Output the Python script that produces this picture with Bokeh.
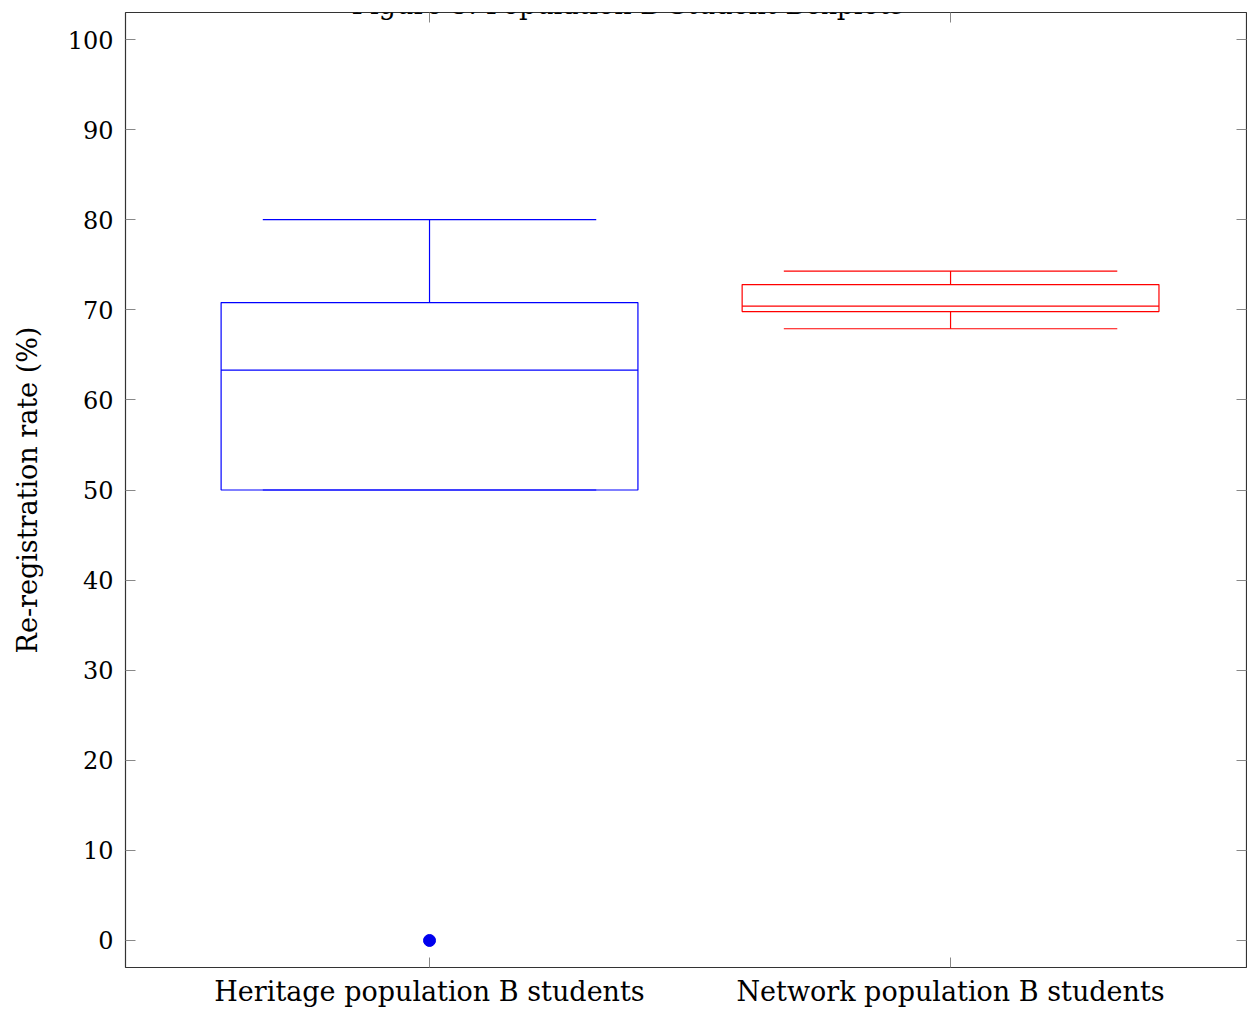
from bokeh.plotting import figure
from bokeh.models import LinearAxis, FixedTicker, Range1d, Label, ColumnDataSource
from bokeh.embed import file_html
from bokeh.resources import INLINE

# ---- data ----
categories = ["Heritage population B students", "Network population B students"]
lower_whisker = [50.0, 67.9]
lower_quartile = [50.0, 69.8]
median = [63.3, 70.4]
upper_quartile = [70.8, 72.8]
upper_whisker = [80.0, 74.3]
colors = ["#0000ff", "#ff0000"]
outlier_group = [1]
outlier_value = [0.0]
y_ticks = [0, 10, 20, 30, 40, 50, 60, 70, 80, 90, 100]
title_text = "Figure 5: Population B Student Boxplots"
y_label = "Re-registration rate (%)"

FONT = "DejaVu Serif"
FS_NUM = "24px"
FS_TXT = "27px"

positions = [i + 1 for i in range(len(categories))]
box_half = 0.4
cap_half = 0.32

src = ColumnDataSource(dict(
    x=positions,
    left=[x - box_half for x in positions],
    right=[x + box_half for x in positions],
    cap_l=[x - cap_half for x in positions],
    cap_r=[x + cap_half for x in positions],
    lw=lower_whisker, q1=lower_quartile, med=median, q3=upper_quartile, uw=upper_whisker,
    color=colors,
))

p = figure(width=1247, height=1009, x_range=Range1d(0.4165, 2.568), y_range=Range1d(-3, 103),
           output_backend="svg", toolbar_location=None,
           min_border_left=125, min_border_top=12, min_border_right=1, min_border_bottom=41)
p.xgrid.visible = False
p.ygrid.visible = False
p.outline_line_color = "#333333"
p.outline_line_width = 1.2
p.background_fill_color = "white"
p.border_fill_color = "white"

lw_ = 1.2
# boxes
p.quad(left="left", right="right", bottom="q1", top="q3", source=src,
       fill_color=None, line_color="color", line_width=lw_)
# whiskers
p.segment(x0="x", x1="x", y0="q3", y1="uw", source=src, line_color="color", line_width=lw_)
p.segment(x0="x", x1="x", y0="q1", y1="lw", source=src, line_color="color", line_width=lw_)
p.segment(x0="cap_l", x1="cap_r", y0="uw", y1="uw", source=src, line_color="color", line_width=lw_)
p.segment(x0="cap_l", x1="cap_r", y0="lw", y1="lw", source=src, line_color="color", line_width=lw_)
# medians
for i in range(len(positions)):
    p.line(x=[src.data["left"][i], src.data["right"][i]], y=[median[i], median[i]],
           line_color=colors[i], line_width=lw_)
# outliers
p.scatter(x=outlier_group, y=outlier_value, size=12, color="#0000ee", marker="circle")

tick_color = "#888888"

def style_axis(ax, fs):
    ax.axis_line_color = None
    ax.major_tick_in = 10
    ax.major_tick_out = 0
    ax.major_tick_line_color = tick_color
    ax.minor_tick_line_color = None
    ax.major_label_text_font = FONT
    ax.major_label_text_font_size = fs
    ax.major_label_text_color = "black"

xax = p.xaxis[0]
xax.ticker = FixedTicker(ticks=positions)
xax.major_label_overrides = {pos: cat for pos, cat in zip(positions, categories)}
style_axis(xax, FS_TXT)
xax.major_label_standoff = 8

yax = p.yaxis[0]
yax.ticker = FixedTicker(ticks=y_ticks)
style_axis(yax, FS_NUM)
yax.major_label_standoff = 12
yax.axis_label = y_label
yax.axis_label_text_font = FONT
yax.axis_label_text_font_size = FS_TXT
yax.axis_label_text_font_style = "normal"
yax.axis_label_text_color = "black"
yax.axis_label_standoff = 22

rax = LinearAxis(ticker=FixedTicker(ticks=y_ticks))
style_axis(rax, FS_NUM)
rax.major_label_overrides = {t: "" for t in y_ticks}
rax.major_label_standoff = 0
p.add_layout(rax, "right")

tax = LinearAxis(ticker=FixedTicker(ticks=positions))
style_axis(tax, FS_NUM)
tax.major_label_overrides = {t: "" for t in positions}
tax.major_label_standoff = 0
p.add_layout(tax, "above")

p.add_layout(Label(x=1.38, y=103.85, text=title_text, text_align="center",
                   text_baseline="alphabetic", text_font=FONT, text_font_size=FS_TXT,
                   text_color="black"))

open("out.html", "w").write(file_html(p, INLINE))
